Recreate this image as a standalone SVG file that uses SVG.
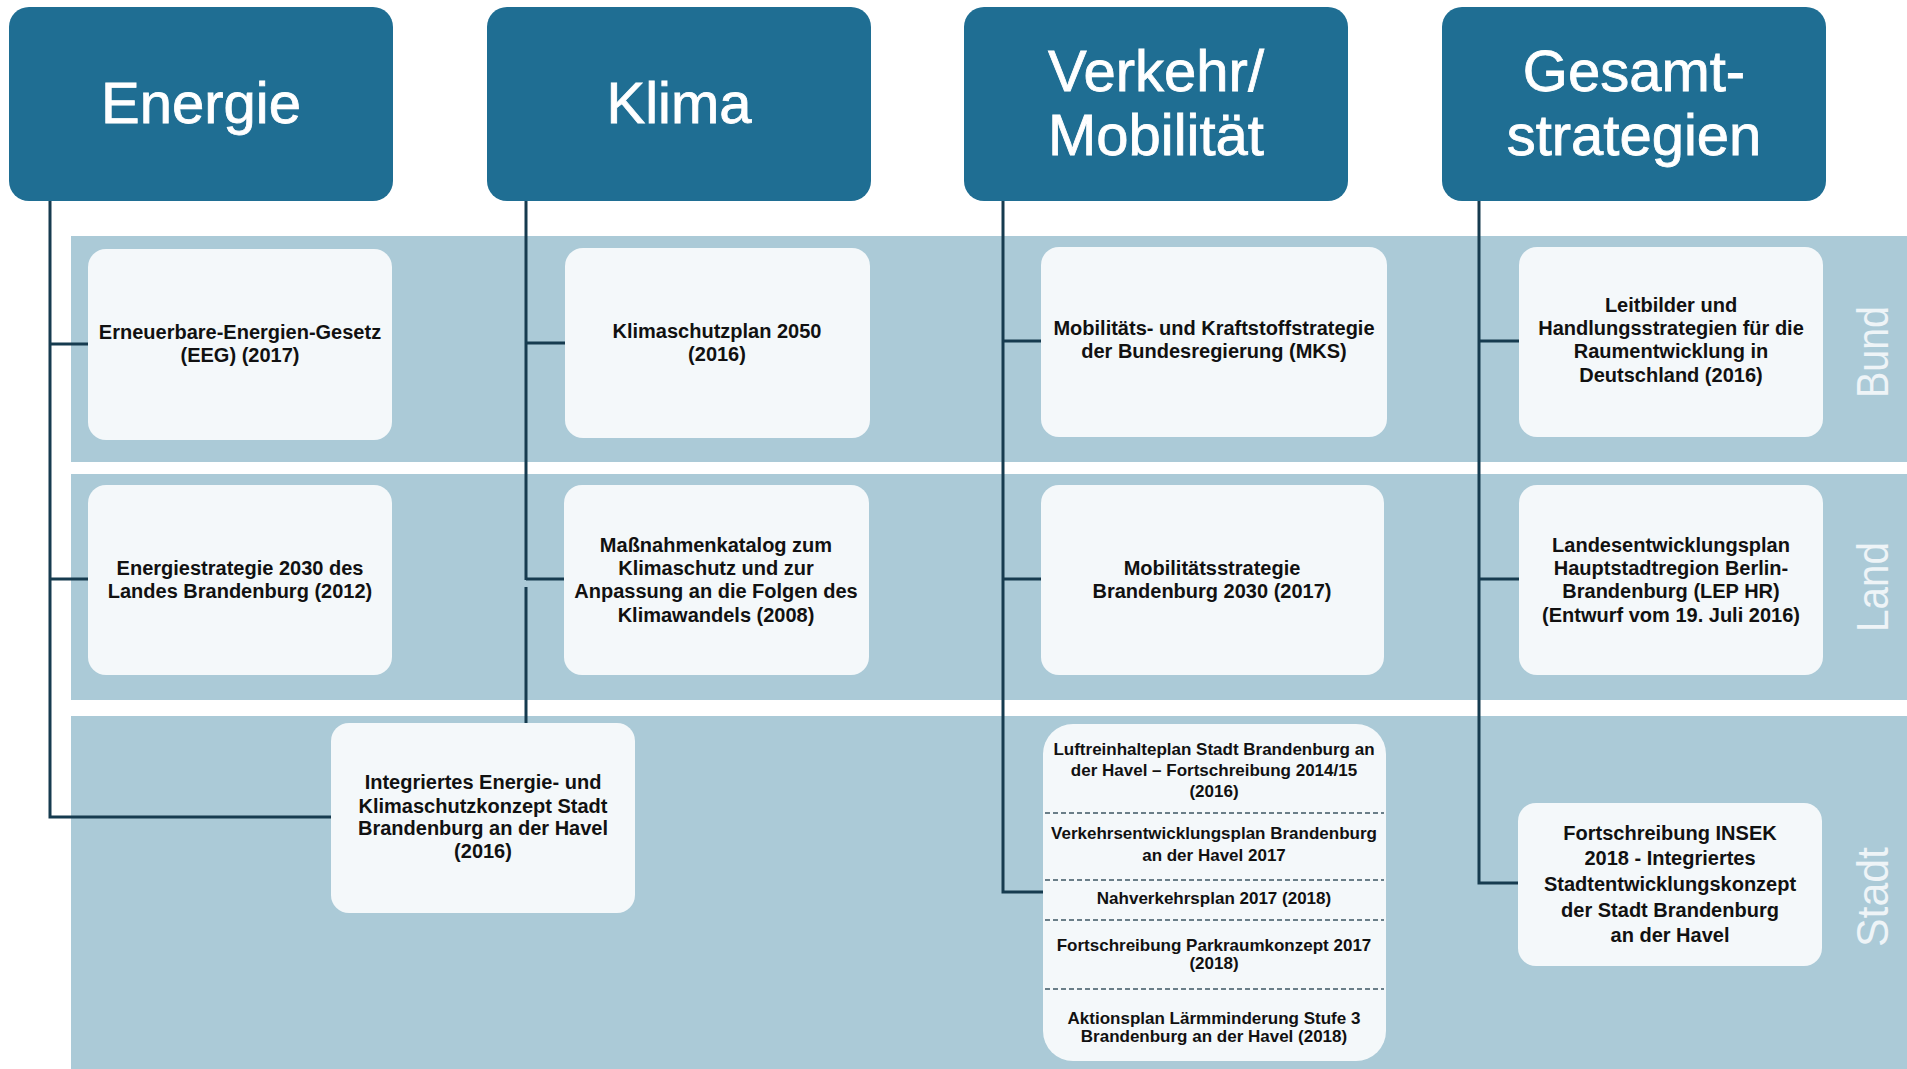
<svg xmlns="http://www.w3.org/2000/svg" width="1907" height="1069" viewBox="0 0 1907 1069">
<style>
.hdr{fill:#1F6E93}
.hdrt{font-family:"Liberation Sans",Arial,sans-serif;font-size:58px;fill:#FFFFFF;text-anchor:middle;stroke:#FFFFFF;stroke-width:0.8}
.band{fill:#ABCAD7}
.node{fill:#F4F8FA}
.nt{font-family:"Liberation Sans",Arial,sans-serif;font-size:20px;font-weight:bold;fill:#111111;text-anchor:middle}
.st{font-family:"Liberation Sans",Arial,sans-serif;font-size:17px;font-weight:bold;fill:#111111;text-anchor:middle}
.side{font-family:"Liberation Sans",Arial,sans-serif;font-size:44px;fill:#EEF4F7;text-anchor:middle}
.conn{fill:none;stroke:#163B4F;stroke-width:3}
.dash{stroke:#3C5563;stroke-width:1.6;stroke-dasharray:5 3}
</style>
<rect width="1907" height="1069" fill="#FFFFFF"/>
<g id="bands">
<rect class="band" x="71" y="236" width="1836" height="226"/>
<rect class="band" x="71" y="474" width="1836" height="226"/>
<rect class="band" x="71" y="716" width="1836" height="353"/>
<text class="side" transform="translate(1888,352) rotate(-90)" textLength="92" lengthAdjust="spacingAndGlyphs">Bund</text>
<text class="side" transform="translate(1888,587) rotate(-90)" textLength="90" lengthAdjust="spacingAndGlyphs">Land</text>
<text class="side" transform="translate(1888,897) rotate(-90)" textLength="100" lengthAdjust="spacingAndGlyphs">Stadt</text>
</g>
<g id="connectors">
<path class="conn" d="M50,201 V817 H331 M50,344 H88 M50,579 H88"/>
<path class="conn" d="M526,201 V580 M526,343 H565 M526,579 H564 M526,587 V730"/>
<path class="conn" d="M1003,201 V892 H1043 M1003,341 H1041 M1003,579 H1041"/>
<path class="conn" d="M1479,201 V883 H1518 M1479,341 H1519 M1479,579 H1519"/>
</g>
<g id="h-energie"><rect class="hdr" x="9" y="7" width="384" height="194" rx="20"/><text class="hdrt" x="201" y="123">Energie</text></g>
<g id="h-klima"><rect class="hdr" x="487" y="7" width="384" height="194" rx="20"/><text class="hdrt" x="679" y="123">Klima</text></g>
<g id="h-verkehr"><rect class="hdr" x="964" y="7" width="384" height="194" rx="20"/><text class="hdrt" x="1156" y="91">Verkehr/</text><text class="hdrt" x="1156" y="155">Mobilität</text></g>
<g id="h-gesamt"><rect class="hdr" x="1442" y="7" width="384" height="194" rx="20"/><text class="hdrt" x="1634" y="91">Gesamt-</text><text class="hdrt" x="1634" y="155">strategien</text></g>
<g id="n-eeg"><rect class="node" x="88" y="249" width="304" height="191" rx="18"/><text class="nt" x="240" y="339">Erneuerbare-Energien-Gesetz</text><text class="nt" x="240" y="362">(EEG) (2017)</text></g>
<g id="n-ksp"><rect class="node" x="565" y="248" width="305" height="190" rx="18"/><text class="nt" x="717" y="338">Klimaschutzplan 2050</text><text class="nt" x="717" y="361">(2016)</text></g>
<g id="n-es"><rect class="node" x="88" y="485" width="304" height="190" rx="18"/><text class="nt" x="240" y="575">Energiestrategie 2030 des</text><text class="nt" x="240" y="598">Landes Brandenburg (2012)</text></g>
<g id="n-mk"><rect class="node" x="564" y="485" width="305" height="190" rx="18"/><text class="nt" x="716" y="552">Maßnahmenkatalog zum</text><text class="nt" x="716" y="575">Klimaschutz und zur</text><text class="nt" x="716" y="598">Anpassung an die Folgen des</text><text class="nt" x="716" y="622">Klimawandels (2008)</text></g>
<g id="n-mks"><rect class="node" x="1041" y="247" width="346" height="190" rx="18"/><text class="nt" x="1214" y="335">Mobilitäts- und Kraftstoffstrategie</text><text class="nt" x="1214" y="358">der Bundesregierung (MKS)</text></g>
<g id="n-leit"><rect class="node" x="1519" y="247" width="304" height="190" rx="18"/><text class="nt" x="1671" y="312">Leitbilder und</text><text class="nt" x="1671" y="335">Handlungsstrategien für die</text><text class="nt" x="1671" y="358">Raumentwicklung in</text><text class="nt" x="1671" y="382">Deutschland (2016)</text></g>
<g id="n-ms"><rect class="node" x="1041" y="485" width="343" height="190" rx="18"/><text class="nt" x="1212" y="575">Mobilitätsstrategie</text><text class="nt" x="1212" y="598">Brandenburg 2030 (2017)</text></g>
<g id="n-lep"><rect class="node" x="1519" y="485" width="304" height="190" rx="18"/><text class="nt" x="1671" y="552">Landesentwicklungsplan</text><text class="nt" x="1671" y="575">Hauptstadtregion Berlin-</text><text class="nt" x="1671" y="598">Brandenburg (LEP HR)</text><text class="nt" x="1671" y="622">(Entwurf vom 19. Juli 2016)</text></g>
<g id="n-iek"><rect class="node" x="331" y="723" width="304" height="190" rx="18"/><text class="nt" x="483" y="789">Integriertes Energie- und</text><text class="nt" x="483" y="813">Klimaschutzkonzept Stadt</text><text class="nt" x="483" y="835">Brandenburg an der Havel</text><text class="nt" x="483" y="858">(2016)</text></g>
<g id="n-stack"><rect class="node" x="1043" y="724" width="343" height="337" rx="30"/>
<line class="dash" x1="1045" y1="813" x2="1384" y2="813"/><line class="dash" x1="1045" y1="880" x2="1384" y2="880"/><line class="dash" x1="1045" y1="920" x2="1384" y2="920"/><line class="dash" x1="1045" y1="989" x2="1384" y2="989"/>
<text class="st" x="1214" y="755">Luftreinhalteplan Stadt Brandenburg an</text><text class="st" x="1214" y="776">der Havel – Fortschreibung 2014/15</text><text class="st" x="1214" y="797">(2016)</text>
<text class="st" x="1214" y="839">Verkehrsentwicklungsplan Brandenburg</text><text class="st" x="1214" y="861">an der Havel 2017</text>
<text class="st" x="1214" y="904">Nahverkehrsplan 2017 (2018)</text>
<text class="st" x="1214" y="951">Fortschreibung Parkraumkonzept 2017</text><text class="st" x="1214" y="969">(2018)</text>
<text class="st" x="1214" y="1024">Aktionsplan Lärmminderung Stufe 3</text><text class="st" x="1214" y="1042">Brandenburg an der Havel (2018)</text>
</g>
<g id="n-insek"><rect class="node" x="1518" y="803" width="304" height="163" rx="18"/><text class="nt" x="1670" y="840">Fortschreibung INSEK</text><text class="nt" x="1670" y="865">2018 - Integriertes</text><text class="nt" x="1670" y="891">Stadtentwicklungskonzept</text><text class="nt" x="1670" y="917">der Stadt Brandenburg</text><text class="nt" x="1670" y="942">an der Havel</text></g>
</svg>
